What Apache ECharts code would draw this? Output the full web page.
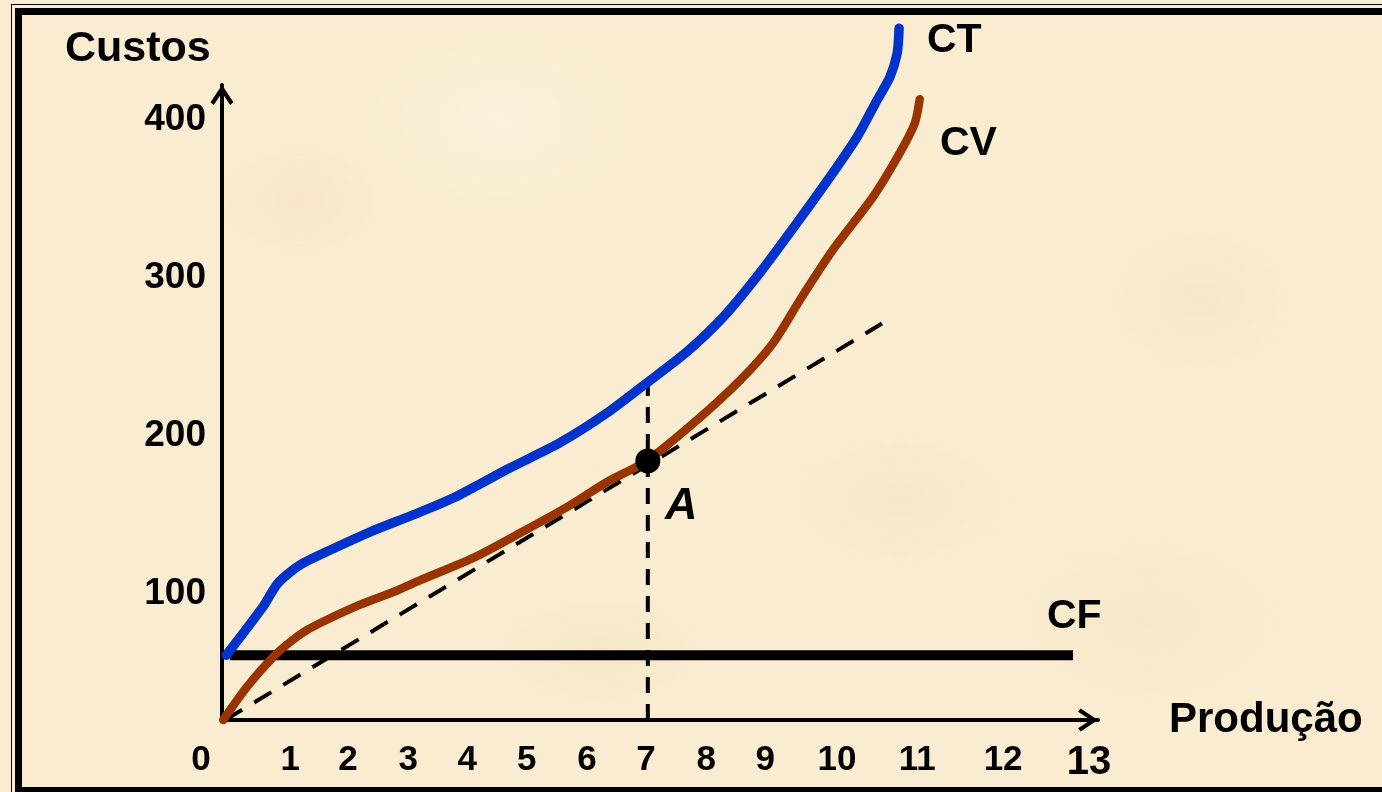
<!DOCTYPE html>
<html>
<head>
<meta charset="utf-8">
<script src="https://cdn.jsdelivr.net/npm/echarts@6/dist/echarts.min.js"></script>
<style>
  html, body { margin: 0; padding: 0; width: 1382px; height: 792px; overflow: hidden; }
  body {
    background-color: #F9ECD0;
    background-image:
      radial-gradient(ellipse 90px 60px at 300px 200px, rgba(238,218,178,0.30), rgba(238,218,178,0) 100%),
      radial-gradient(ellipse 120px 70px at 900px 500px, rgba(238,218,178,0.28), rgba(238,218,178,0) 100%),
      radial-gradient(ellipse 100px 80px at 1200px 300px, rgba(238,218,178,0.28), rgba(238,218,178,0) 100%),
      radial-gradient(ellipse 110px 60px at 600px 650px, rgba(238,218,178,0.28), rgba(238,218,178,0) 100%),
      radial-gradient(ellipse 140px 90px at 500px 120px, rgba(255,248,232,0.45), rgba(255,248,232,0) 100%),
      radial-gradient(ellipse 140px 90px at 1150px 620px, rgba(238,218,178,0.25), rgba(238,218,178,0) 100%);
  }
  #thin { position: absolute; left: 11px; top: 4px; width: 1500px; height: 900px; border: 1.5px solid #000; box-sizing: border-box; }
  #thick { position: absolute; left: 15px; top: 8px; width: 1500px; height: 786px; border: 7px solid #000; box-sizing: border-box; }
  #chart { position: absolute; left: 0; top: 0; width: 1382px; height: 792px; }
</style>
</head>
<body>
<div id="thin"></div>
<div id="thick"></div>
<div id="chart"></div>
<script>
// ---- data ----
const xTickLabels = ['0','1','2','3','4','5','6','7','8','9','10','11','12','13'];
const xTickPos    = [0, 1.12, 2.07, 3.06, 4.03, 5.01, 6.00, 6.97, 7.96, 8.93, 10.11, 11.43, 12.84, 14.25];
const yTickValues = [100, 200, 300, 400];

const ctX = [0.07, 0.67, 0.92, 1.28, 1.78, 2.43, 3.14, 3.80, 4.73, 5.55, 6.33, 6.98, 7.64, 8.24, 8.84, 9.45, 10.04, 10.44, 10.77, 10.98, 11.10, 11.13];
const ctY = [61, 91.5, 106.7, 118.1, 127.6, 139, 149.8, 160.5, 179.5, 195.4, 214.4, 233.3, 253, 275.1, 303, 334.6, 366.3, 389.1, 412.5, 427.1, 442.3, 458];

const cvX = [0.02, 0.41, 0.84, 1.12, 1.40, 1.70, 2.27, 2.88, 3.26, 4.13, 4.90, 5.67, 6.33, 6.98, 7.81, 8.52, 9.06, 9.50, 10.04, 10.70, 11.14, 11.39, 11.47];
const cvY = [20, 40.9, 59.9, 69.4, 77, 83, 93, 102, 108.5, 122.6, 138.4, 154.8, 170.7, 184, 209.9, 235.2, 258.7, 285.9, 317.5, 351.1, 378.9, 398, 413];

const cfX = [0.13, 13.99];
const cfY = [61, 61];

const rayX = [0.05, 10.85];
const rayY = [20, 271];

const dropX = [7, 7];
const dropY = [20, 233];

const pointA = [7, 184];

const zip = (xs, ys) => xs.map((x, i) => [x, ys[i]]);

function tickLabelFor(v) {
  let best = 0, bd = Infinity;
  xTickPos.forEach((p, i) => { const d = Math.abs(p - v); if (d < bd) { bd = d; best = i; } });
  return xTickLabels[best];
}

const chevron = 'path://M11,0 L22,16.5 L18.8,19 L11,7 L3.2,19 L0,16.5 Z';
const FONT = "'Liberation Sans', Arial, sans-serif";

const chart = echarts.init(document.getElementById('chart'), null, { renderer: 'canvas' });
chart.setOption({
  animation: false,
  backgroundColor: 'transparent',
  grid: { left: 222, top: 85, width: 876, height: 635, containLabel: false },
  xAxis: {
    type: 'value', min: 0, max: 14.4,
    axisLine: { show: true, onZero: false, lineStyle: { color: '#000', width: 4 },
                symbol: ['none', chevron], symbolSize: [23, 20], symbolOffset: [0, -10] },
    axisTick: { show: false },
    splitLine: { show: false },
    axisLabel: {
      customValues: xTickPos,
      showMinLabel: true, showMaxLabel: true, hideOverlap: false,
      margin: 23,
      color: '#000', fontFamily: FONT, fontWeight: 'bold', fontSize: 35,
      formatter: function (v) {
        const t = tickLabelFor(v);
        if (t === '0') return '{z|' + t + '}';
        if (t === '13') return '{b|' + t + '}';
        return t;
      },
      rich: {
        z: { fontFamily: FONT, fontWeight: 'bold', fontSize: 35, color: '#000', padding: [0, 42, 0, 0] },
        b: { fontFamily: FONT, fontWeight: 'bold', fontSize: 40, color: '#000' }
      }
    }
  },
  yAxis: {
    type: 'value', min: 20, max: 422,
    axisLine: { show: true, onZero: false, lineStyle: { color: '#000', width: 4 },
                symbol: ['none', chevron], symbolSize: [23, 20], symbolOffset: [0, -10] },
    axisTick: { show: false },
    splitLine: { show: false },
    axisLabel: {
      customValues: yTickValues,
      margin: 16,
      color: '#000', fontFamily: FONT, fontWeight: 'bold', fontSize: 37
    }
  },
  graphic: [
    { type: 'text', left: 65, top: 28, style: { text: 'Custos', fill: '#000', font: "bold 43px " + FONT } },
    { type: 'text', left: 1169, top: 699, style: { text: 'Produção', fill: '#000', font: "bold 42px " + FONT } },
    { type: 'text', left: 927, top: 20, style: { text: 'CT', fill: '#000', font: "bold 41px " + FONT } },
    { type: 'text', left: 940, top: 123, style: { text: 'CV', fill: '#000', font: "bold 41px " + FONT } },
    { type: 'text', left: 1047, top: 596, style: { text: 'CF', fill: '#000', font: "bold 41px " + FONT } }
  ],
  series: [
    {
      name: 'CF', type: 'line', data: zip(cfX, cfY), showSymbol: false, clip: false,
      lineStyle: { color: '#000', width: 10, cap: 'butt' }, z: 3
    },
    {
      name: 'tangente', type: 'line', data: zip(rayX, rayY), showSymbol: false, clip: false,
      lineStyle: { color: '#000', width: 4, type: [20, 14], cap: 'butt' }, z: 2
    },
    {
      name: 'queda', type: 'line', data: zip(dropX, dropY), showSymbol: false, clip: false,
      lineStyle: { color: '#000', width: 4, type: [16, 11], cap: 'butt' }, z: 2
    },
    {
      name: 'CV', type: 'line', data: zip(cvX, cvY), showSymbol: false, clip: false, smooth: 0.25,
      lineStyle: { color: '#993300', width: 8.5, cap: 'round', join: 'round' }, z: 4
    },
    {
      name: 'CT', type: 'line', data: zip(ctX, ctY), showSymbol: false, clip: false, smooth: 0.25,
      lineStyle: { color: '#0033CC', width: 9.5, cap: 'round', join: 'round' }, z: 4
    },
    {
      name: 'A', type: 'scatter', data: [pointA], symbol: 'circle', symbolSize: 25, clip: false,
      itemStyle: { color: '#000', opacity: 1 }, z: 6,
      label: {
        show: true, formatter: 'A', position: [46, 58], align: 'center', verticalAlign: 'middle',
        color: '#000', opacity: 1, fontFamily: FONT, fontWeight: 'bold', fontStyle: 'italic', fontSize: 45
      }
    }
  ]
});
</script>
</body>
</html>
